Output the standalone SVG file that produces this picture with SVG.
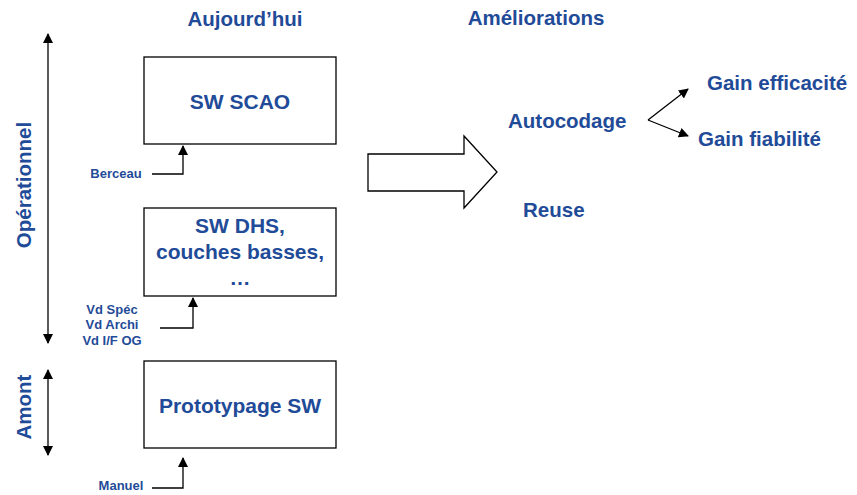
<svg xmlns="http://www.w3.org/2000/svg" width="857" height="495" viewBox="0 0 857 495">
<style>
text{font-family:"Liberation Sans",Arial,sans-serif;font-weight:bold;fill:#1f4b98}
.h{font-size:20.5px}
.b{font-size:21px}
.s{font-size:13px}
.box{fill:#fff;stroke:#000;stroke-width:1.3}
.ln{fill:none;stroke:#000;stroke-width:1.3}
</style>
<defs>
<marker id="ah" viewBox="0 0 10 10" refX="9" refY="5" markerWidth="10" markerHeight="10" markerUnits="userSpaceOnUse" orient="auto-start-reverse"><path d="M0,0L10,5L0,10z" fill="#000"/></marker>
</defs>
<rect width="857" height="495" fill="#fff"/>
<text class="h" x="245" y="26" text-anchor="middle">Aujourd’hui</text>
<text class="h" x="536" y="25" text-anchor="middle">Améliorations</text>
<text class="h" transform="translate(31,185) rotate(-90)" text-anchor="middle">Opérationnel</text>
<text class="h" transform="translate(31,407) rotate(-90)" text-anchor="middle">Amont</text>
<g id="box-scao"><rect class="box" x="144" y="57" width="192" height="87"/><text class="b" x="240" y="109" text-anchor="middle">SW SCAO</text></g>
<g id="box-dhs"><rect class="box" x="144" y="208" width="192" height="88"/><text class="b" text-anchor="middle"><tspan x="240" y="233">SW DHS,</tspan><tspan x="240" y="259">couches basses,</tspan><tspan x="240" y="285">…</tspan></text></g>
<g id="box-proto"><rect class="box" x="144" y="361" width="192" height="87"/><text class="b" x="240" y="413" text-anchor="middle">Prototypage SW</text></g>
<g id="lbl-berceau"><text class="s" x="116" y="178" text-anchor="middle">Berceau</text></g>
<g id="lbl-vd"><text class="s" text-anchor="middle"><tspan x="112" y="314">Vd Spéc</tspan><tspan x="112" y="329">Vd Archi</tspan><tspan x="112" y="345">Vd I/F OG</tspan></text></g>
<g id="lbl-manuel"><text class="s" x="121" y="490" text-anchor="middle">Manuel</text></g>
<g id="autocodage"><text class="h" x="508" y="128">Autocodage</text></g>
<g id="reuse"><text class="h" x="523" y="217">Reuse</text></g>
<g id="gain-eff"><text class="h" x="707" y="90">Gain efficacité</text></g>
<g id="gain-fia"><text class="h" x="698" y="146">Gain fiabilité</text></g>
<g id="connectors">
<line class="ln" x1="48" y1="34" x2="48" y2="343" marker-start="url(#ah)" marker-end="url(#ah)"/>
<line class="ln" x1="48" y1="370" x2="48" y2="455" marker-start="url(#ah)" marker-end="url(#ah)"/>
<polyline class="ln" points="152,174 183,174 183,146" marker-end="url(#ah)"/>
<polyline class="ln" points="160,328 193,328 193,298" marker-end="url(#ah)"/>
<polyline class="ln" points="152,488 183,488 183,458" marker-end="url(#ah)"/>
<line class="ln" x1="648" y1="120" x2="688" y2="89" marker-end="url(#ah)"/>
<line class="ln" x1="648" y1="120" x2="688" y2="136" marker-end="url(#ah)"/>
<path d="M368,154H464V136L497,172L464,208V191H368Z" fill="#fff" stroke="#000" stroke-width="1.3"/>
</g>
</svg>
